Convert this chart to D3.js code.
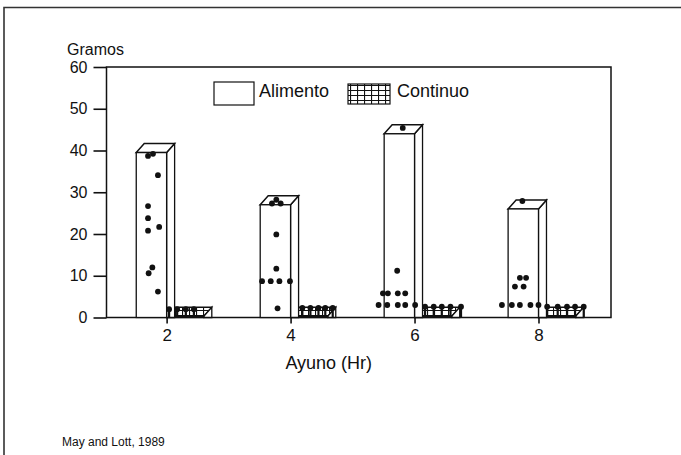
<!DOCTYPE html>
<html><head><meta charset="utf-8">
<script src="https://cdn.jsdelivr.net/npm/d3@7"></script>
<style>body{margin:0;background:#fff}svg{display:block}</style>
</head><body><svg id="c" width="681" height="455"></svg>
<script>
// ---- data ----
const hours = [2, 4, 6, 8];
const alimento = [39.5, 27, 44, 26];          // bar heights (g)
const continuo = [0.3, 0.3, 0.3, 0.3];        // flat bars (g)
const yTicks = [0, 10, 20, 30, 40, 50, 60];
const xTicks = [2, 4, 6, 8];
const seriesNames = ["Alimento", "Continuo"];
// individual animals: [offset from group hour (h), grams]
const alimentoDots2 = [[-0.30,38.7],[-0.22,39.2],[-0.14,34.1],[-0.30,26.7],[-0.30,23.8],[-0.30,20.8],[-0.12,21.7],[-0.23,12.0],[-0.29,10.6],[-0.14,6.2]];
const alimentoDots4 = [[-0.30,27.3],[-0.16,27.3],[-0.23,28.2],[-0.23,19.9],[-0.23,11.7],[-0.46,8.7],[-0.32,8.7],[-0.18,8.7],[-0.01,8.7],[-0.21,2.2]];
const alimentoDots6 = [[-0.19,45.4],[-0.28,11.2],[-0.51,5.8],[-0.43,5.8],[-0.27,5.8],[-0.15,5.8],[-0.58,3.0],[-0.44,3.0],[-0.27,3.0],[-0.15,3.0],[0.01,3.0]];
const alimentoDots8 = [[-0.26,27.9],[-0.30,9.5],[-0.20,9.5],[-0.38,7.4],[-0.24,7.4],[-0.59,3.0],[-0.43,3.0],[-0.30,3.0],[-0.13,3.0],[0.0,3.0]];
const continuoDots2 = [[0.04,2.0],[0.17,2.0],[0.31,2.0],[0.44,2.0]];
const continuoDots4 = [[0.19,2.3],[0.32,2.3],[0.45,2.3],[0.56,2.3],[0.68,2.3]];
const continuoDots6 = [[0.17,2.6],[0.31,2.6],[0.44,2.6],[0.58,2.6],[0.75,2.6]];
const continuoDots8 = [[0.14,2.6],[0.31,2.6],[0.46,2.6],[0.59,2.6],[0.73,2.6]];
const alimentoDots = [alimentoDots2, alimentoDots4, alimentoDots6, alimentoDots8];
const continuoDots = [continuoDots2, continuoDots4, continuoDots6, continuoDots8];
const xLabel = "Ayuno (Hr)";
const yLabel = "Gramos";
const source = "May and Lott, 1989";

// ---- layout ----
const W = 681, H = 455;
const L = 106.5, R = 611, T = 67, B = 317.5;
const barW = 0.49;          // Alimento bar width in hours
const contW = 0.6;          // Continuo box width in hours
const DX = 8, DY = 9;       // 3D depth offset (px)
const font = "'Liberation Sans', Arial, sans-serif";

const svg = d3.select("#c");
svg.append("rect").attr("width", W).attr("height", H).attr("fill", "#fff");

const x = d3.scaleLinear().domain([1.03, 9.17]).range([L, R]);
const y = d3.scaleLinear().domain([0, 60]).range([B, T]);

// pattern for Continuo
const defs = svg.append("defs");
const pat = defs.append("pattern").attr("id", "grid").attr("patternUnits", "userSpaceOnUse")
  .attr("width", 7).attr("height", 5);
pat.append("rect").attr("width", 7).attr("height", 5).attr("fill", "#fff");
pat.append("path").attr("d", "M0.5,0V5M0,0.5H7").attr("stroke", "#111").attr("stroke-width", 1.2);

// outer frame (partial)
svg.append("path").attr("d", `M4,${H}V7.5H${W}`).attr("fill", "none")
  .attr("stroke", "#333").attr("stroke-width", 1.6);

// plot frame
svg.append("rect").attr("x", L).attr("y", T).attr("width", R - L).attr("height", B - T)
  .attr("fill", "none").attr("stroke", "#111").attr("stroke-width", 1.5);

// axes
const yAxis = svg.append("g").attr("transform", `translate(${L},0)`)
  .call(d3.axisLeft(y).tickValues(yTicks).tickSize(13).tickPadding(6).tickFormat(d3.format("d")));
yAxis.select(".domain").remove();
yAxis.selectAll("line").attr("stroke", "#111").attr("stroke-width", 1.6);
yAxis.selectAll("text").attr("font-family", font).attr("font-size", 16).attr("fill", "#111");

const xAxis = svg.append("g").attr("transform", `translate(0,${B})`)
  .call(d3.axisBottom(x).tickValues(xTicks).tickSize(6).tickPadding(5).tickFormat(d3.format("d")));
xAxis.select(".domain").remove();
xAxis.selectAll("line").attr("stroke", "#111").attr("stroke-width", 1.6);
xAxis.selectAll("text").attr("font-family", font).attr("font-size", 17).attr("fill", "#111");

// bars
const g = svg.append("g");
hours.forEach((h, i) => {
  // Continuo flat box (behind)
  const cx0 = x(h), cx1 = x(h + contW), cyT = y(continuo[i]), cy0 = y(0);
  g.append("path").attr("d", `M${cx0},${cyT}L${cx0 + DX},${cyT - DY}L${cx1 + DX},${cyT - DY}L${cx1},${cyT}Z`)
    .attr("fill", "url(#grid)").attr("stroke", "#111").attr("stroke-width", 1.3);
  g.append("path").attr("d", `M${cx1},${cyT}L${cx1 + DX},${cyT - DY}L${cx1 + DX},${cy0}L${cx1},${cy0}Z`)
    .attr("fill", "#fff").attr("stroke", "#111").attr("stroke-width", 1.3);
  g.append("rect").attr("x", cx0).attr("y", cyT).attr("width", cx1 - cx0).attr("height", cy0 - cyT)
    .attr("fill", "url(#grid)").attr("stroke", "#111").attr("stroke-width", 1.3);

  // Alimento 3D bar
  const ax0 = x(h - barW), ax1 = x(h), ayT = y(alimento[i]), ay0 = y(0);
  g.append("path").attr("d", `M${ax1},${ayT}L${ax1 + DX},${ayT - DY}L${ax1 + DX},${ay0}L${ax1},${ay0}Z`)
    .attr("fill", "#fff").attr("stroke", "#111").attr("stroke-width", 1.3);
  g.append("path").attr("d", `M${ax0},${ayT}L${ax0 + DX},${ayT - DY}L${ax1 + DX},${ayT - DY}L${ax1},${ayT}Z`)
    .attr("fill", "#fff").attr("stroke", "#111").attr("stroke-width", 1.5);
  g.append("rect").attr("x", ax0).attr("y", ayT).attr("width", ax1 - ax0).attr("height", ay0 - ayT)
    .attr("fill", "#fff").attr("stroke", "#111").attr("stroke-width", 1.3);
});

// dots
hours.forEach((h, i) => {
  continuoDots[i].forEach(([o, v]) => {
    g.append("line").attr("x1", x(h + o)).attr("x2", x(h + o)).attr("y1", y(v)).attr("y2", y(0))
      .attr("stroke", "#111").attr("stroke-width", 2.2);
    g.append("circle").attr("cx", x(h + o)).attr("cy", y(v)).attr("r", 2.9).attr("fill", "#111");
  });
  alimentoDots[i].forEach(([o, v]) => {
    g.append("circle").attr("cx", x(h + o)).attr("cy", y(v)).attr("r", 2.9).attr("fill", "#111");
  });
});

// legend
const lg = svg.append("g");
lg.append("rect").attr("x", 214).attr("y", 82).attr("width", 40).attr("height", 23)
  .attr("fill", "#fff").attr("stroke", "#111").attr("stroke-width", 1.2);
lg.append("text").attr("x", 259).attr("y", 97).text(seriesNames[0])
  .attr("font-family", font).attr("font-size", 18).attr("fill", "#111");
lg.append("rect").attr("x", 348).attr("y", 84).attr("width", 42).attr("height", 20)
  .attr("fill", "url(#grid)").attr("stroke", "#111").attr("stroke-width", 1.2);
lg.append("text").attr("x", 397).attr("y", 97).text(seriesNames[1])
  .attr("font-family", font).attr("font-size", 18).attr("fill", "#111");

// labels
svg.append("text").attr("x", 67).attr("y", 55).text(yLabel)
  .attr("font-family", font).attr("font-size", 16).attr("fill", "#111");
svg.append("text").attr("x", (L + R) / 2 - 30).attr("y", 369).attr("text-anchor", "middle").text(xLabel)
  .attr("font-family", font).attr("font-size", 18).attr("fill", "#111");
svg.append("text").attr("x", 62).attr("y", 446).text(source)
  .attr("font-family", font).attr("font-size", 12).attr("fill", "#111");
</script></body></html>
